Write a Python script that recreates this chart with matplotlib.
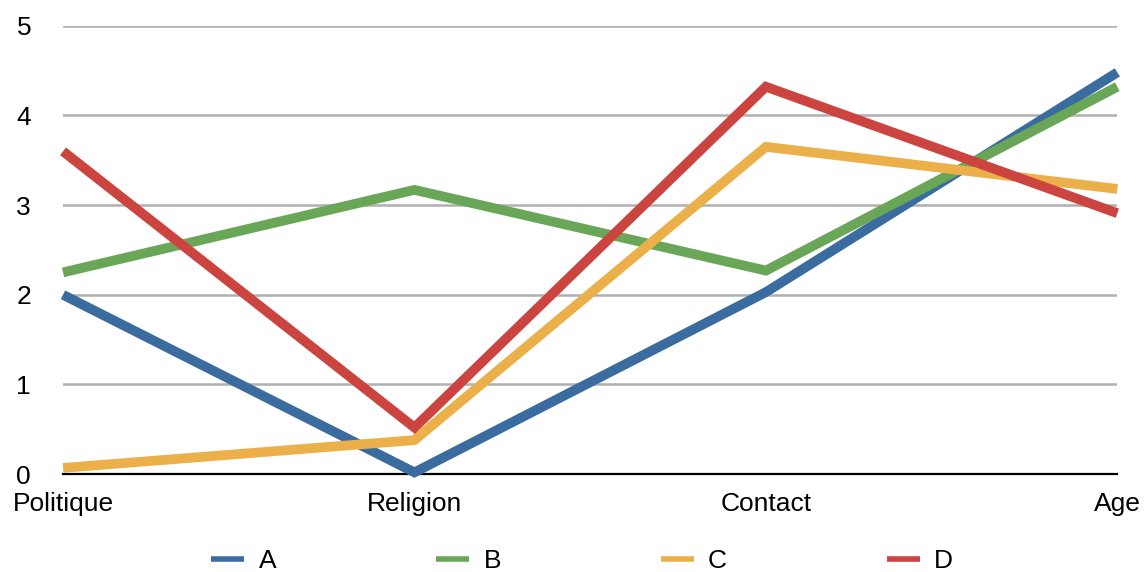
import matplotlib.pyplot as plt

# data
categories = ['Politique', 'Religion', 'Contact', 'Age']
serie_a = [2.0, 0.02, 2.03, 4.48]
serie_b = [2.25, 3.17, 2.27, 4.32]
serie_c = [0.07, 0.38, 3.65, 3.18]
serie_d = [3.6, 0.52, 4.32, 2.91]
labels = ['A', 'B', 'C', 'D']
colors = ['#3b6ca0', '#6aa658', '#ecb04a', '#cc4440']

plt.rcParams['font.family'] = ['Liberation Sans', 'DejaVu Sans']

fig = plt.figure(figsize=(11.46, 5.72), dpi=100)
ax = fig.add_axes([0.055, 0.171, 0.92, 0.784])

x = range(len(categories))
for serie, lab, col in zip([serie_a, serie_b, serie_c, serie_d], labels, colors):
    ax.plot(x, serie, color=col, lw=7, label=lab, solid_capstyle='butt',
            solid_joinstyle='miter', clip_on=False, zorder=3)

ax.set_xlim(0, 3)
ax.set_ylim(0, 5)
ax.set_yticks([0, 1, 2, 3, 4, 5])
ax.set_xticks(list(x))
ax.set_xticklabels(categories)
ax.grid(axis='y', color='#b0b0b0', lw=1.8)
ax.set_axisbelow(True)
for s in ['top', 'right', 'left']:
    ax.spines[s].set_visible(False)
ax.spines['bottom'].set_linewidth(1.6)
ax.spines['bottom'].set_zorder(2)
ax.tick_params(axis='both', length=0, labelsize=19)
ax.tick_params(axis='y', pad=23)
ax.tick_params(axis='x', pad=13)

leg = fig.legend(loc='lower center', ncol=4, bbox_to_anchor=(0.508, -0.043), frameon=False,
                 fontsize=19, handlelength=1.25, handletextpad=0.55, columnspacing=6.05)
for h in leg.get_lines():
    h.set_linewidth(4)

fig.savefig('out.png', dpi=100)
